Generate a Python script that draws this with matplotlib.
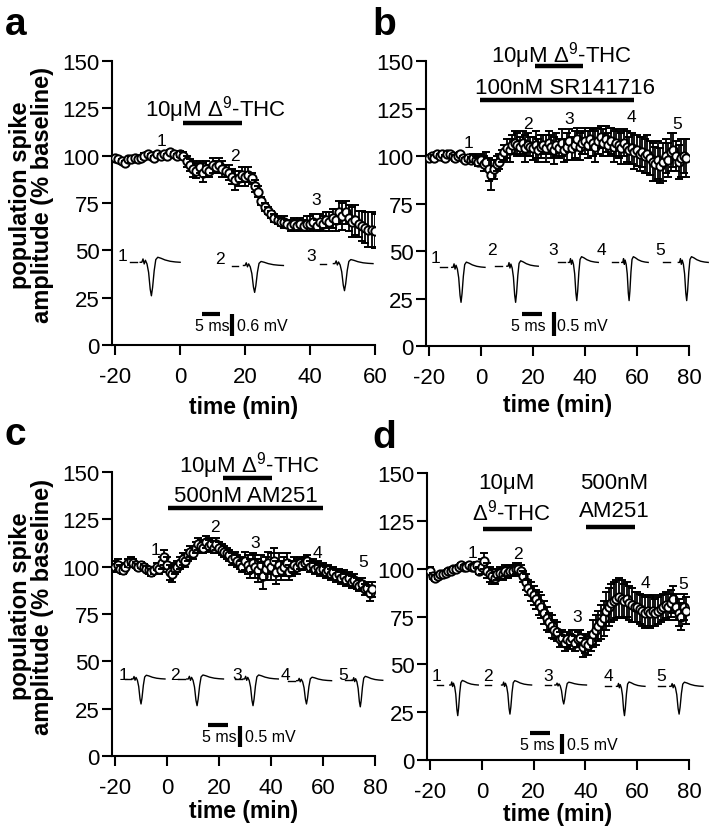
import numpy as np
import matplotlib
matplotlib.use('Agg')
import matplotlib.pyplot as plt

plt.rcParams['font.family'] = ['Liberation Sans', 'DejaVu Sans']
plt.rcParams['mathtext.fontset'] = 'custom'
plt.rcParams['mathtext.rm'] = 'Liberation Sans'
plt.rcParams['mathtext.it'] = 'Liberation Sans:italic'
plt.rcParams['mathtext.bf'] = 'Liberation Sans:bold'
plt.rcParams['axes.unicode_minus'] = False

# ---------------- data: population spike amplitude (% baseline) ----------------
a_time = list(range(-20, 61))
a_mean = [99, 98, 97, 96, 98, 98, 99, 98, 99, 100, 101, 100, 99, 101, 100, 101, 100, 102, 101, 100,
          101, 100, 97, 95, 93, 92, 94, 91, 93, 92, 95, 94, 95, 93, 92, 91, 89, 87, 88, 90, 89, 90, 88,
          84, 81, 76, 73, 71, 69, 67, 66, 65, 65, 64, 63, 64, 63, 64, 63, 64, 64, 65, 63, 65, 64,
          66, 65, 67, 66, 70, 68, 70, 67, 65, 66, 64, 63, 62, 61, 61, 60]
a_sem = [1, 1, 1.5, 1, 1, 1.5, 1, 1, 1, 1.5, 1, 1, 1, 1, 1, 1, 1, 1, 1, 1,
         1.5, 2, 3, 3, 4, 4, 3, 5, 4, 3, 4, 3, 4, 4, 3, 4, 4, 5, 4, 4, 5, 4, 3,
         3, 3, 2, 2, 2, 2, 2, 2, 2, 3, 2, 3, 3, 3, 3, 3, 4, 4, 4, 3, 4, 4,
         4, 5, 5, 6, 6, 7, 6, 7, 8, 8, 7, 8, 8, 9, 9, 9]

b_time = list(range(-20, 80))
b_mean = [99, 100, 99, 101, 100, 101, 99, 101, 101, 100, 99, 100, 101, 99, 98, 99, 98, 99, 98, 97,
          98, 96, 97, 93, 90, 93, 96, 97, 100, 102,
          104, 103, 106, 107, 106, 105, 107, 104, 106, 105, 104, 106, 103, 105, 106, 104, 107, 105, 103, 106,
          104, 107, 103, 105, 108, 104, 106, 109, 105, 107, 108, 106, 109, 107, 105, 108, 110, 107, 109, 106,
          108, 105, 107, 106, 104, 107,
          105, 103, 104, 102, 103, 101, 102, 100, 101, 99, 97, 96, 98, 95, 97, 100, 98, 102, 103, 100,
          97, 99, 100, 99]
b_sem = [1, 1, 1.5, 1, 1, 1, 1.5, 1, 1, 1, 1.5, 1, 1, 1, 1, 1.5, 1.5, 2, 2, 2,
         3, 4, 5, 6, 8, 5, 4, 4, 3, 4,
         5, 6, 5, 6, 6, 5, 6, 7, 6, 5, 6, 7, 6, 6, 5, 7, 6, 6, 7, 6,
         5, 7, 6, 7, 6, 6, 7, 6, 7, 6, 7, 7, 6, 7, 8, 7, 6, 7, 7, 6,
         7, 8, 7, 7, 8, 7,
         8, 7, 8, 9, 8, 9, 8, 9, 10, 9, 10, 9, 10, 9, 10, 9, 9, 10, 9, 8,
         9, 10, 9, 10]

c_time = list(range(-20, 80))
c_mean = [100, 101, 99, 98, 100, 102, 103, 102, 101, 100, 101, 100, 99, 98, 97, 98, 100, 99, 102, 105,
          101, 97, 96, 99, 100, 102, 104, 103, 106, 108, 107, 110, 112, 111, 110, 113, 111, 112, 110, 112,
          110, 109, 108, 107, 106, 104, 105, 103, 102, 100,
          103, 101, 99, 102, 100, 98, 101, 95, 99, 102, 100, 103, 97, 101, 98, 100, 102, 97, 99, 101, 100,
          102, 101, 102, 103, 100, 101, 99, 100, 98, 99, 97, 98, 96, 97, 95, 96, 94, 95, 93, 94,
          92, 93, 91, 90, 91, 88, 89, 86, 88]
c_sem = [3, 3, 2, 2, 2, 2, 2, 2, 1.5, 1.5, 1.5, 1.5, 1.5, 2, 2, 2, 2, 3, 3, 4,
         4, 4, 4, 3, 3, 3, 3, 3, 3, 3, 3, 3, 3, 3, 3, 3, 3, 3, 3, 3, 3, 3, 3, 3, 3, 3, 3, 3, 3, 3,
         5, 5, 5, 5, 6, 6, 5, 7, 6, 6, 7, 7, 6, 6, 5, 5, 5, 4, 4, 4, 4,
         3, 3, 3, 3, 3, 3, 3, 3, 3, 3, 3, 3, 3, 3, 3, 3, 3, 3, 3, 3, 3, 3, 3, 3, 3, 3, 3, 4, 4]

d_time = list(range(-20, 80))
d_mean = [99, 96, 95, 96, 97, 97, 98, 99, 99, 100, 100, 101, 102, 101, 101, 102, 101, 101, 102, 99,
          101, 104, 99, 97, 96, 95, 97, 98, 97, 99, 98, 99, 99, 100, 100, 99,
          96, 93, 90, 88, 86, 84, 82, 80, 77, 74, 72, 70, 68, 67,
          63, 64, 61, 63, 62, 64, 61, 63, 64, 59, 61, 60, 62,
          66, 68, 70, 72, 74, 78, 80, 82, 83, 84, 85, 84, 83, 84, 82, 81, 80, 80, 79, 78,
          77, 78, 77, 78, 77, 78, 79, 80, 81, 80, 82, 84, 80, 77, 75, 80, 78]
d_sem = [2, 1.5, 1.5, 1.5, 1, 1, 1, 1, 1, 1, 1, 1, 1, 1, 1, 1, 1, 1, 1.5, 2,
         4, 4, 4, 4, 4, 3, 3, 3, 3, 3, 3, 3, 3, 3, 3, 3,
         3, 4, 4, 5, 5, 5, 6, 6, 6, 6, 5, 6, 5, 5,
         4, 4, 4, 4, 4, 4, 4, 4, 4, 5, 5, 5, 5,
         7, 8, 8, 9, 9, 10, 10, 10, 10, 10, 10, 10, 9, 9, 9, 9, 8, 8, 8, 8,
         8, 8, 8, 8, 7, 7, 7, 7, 7, 7, 7, 7, 7, 7, 7, 7, 7]

# time-point labels above the data: (label, t, value)
a_marks = [('1', -5.6, 108), ('2', 17, 100), ('3', 42, 77)]
b_marks = [('1', -5, 107), ('2', 18, 117), ('3', 34, 119.5), ('4', 58, 121), ('5', 75.5, 117)]
c_marks = [('1', -4.6, 109), ('2', 18.5, 121), ('3', 34, 113), ('4', 57.7, 107.7), ('5', 75.4, 102.5)]
d_marks = [('1', -3.8, 108.7), ('2', 13.9, 107.7), ('3', 36.7, 74.8), ('4', 63, 93), ('5', 77.6, 92)]

# drug applications: (text, t, value) and bars (t0, t1, value)
THC = '10\u03bcM \u0394$^9$-THC'
a_drug_text = [(THC, 10.8, 124.7)]
a_drug_bars = [(0.8, 19, 117.1)]
b_drug_text = [(THC, 31, 153.5), ('100nM SR141716', 32.3, 135.8)]
b_drug_bars = [(20.8, 39.4, 147.5), (-0.4, 59, 129.5)]
c_drug_text = [(THC, 31.6, 154), ('500nM AM251', 30.3, 137.5)]
c_drug_bars = [(21.4, 40.3, 147), (0.5, 60.1, 130.8)]
d_drug_text = [('10\u03bcM', 9.5, 145.2), ('\u0394$^9$-THC', 11.5, 130), ('500nM', 51, 145.2), ('AM251', 51, 130.2)]
d_drug_bars = [(0.5, 19.2, 120.8), (40.2, 59.1, 121.6)]

# example population spikes: (label, label t, label v, dash t, wave t0, wave t1, baseline, trough)
a_traces = [('1', -17.9, 47.2, -15.4, -12.3, 0, 43.7, 26),
            ('2', 12.3, 45.5, 15.9, 19.5, 31.8, 42, 27.8),
            ('3', 40.5, 47.2, 43, 47.2, 59.4, 43, 28.7)]
b_traces = [('1', -17.7, 46.7, -15.8, -11.3, 1.5, 41.4, 23),
            ('2', 4.1, 51, 5.4, 9.9, 22, 42, 23),
            ('3', 27.8, 51, 29.7, 33.6, 45.1, 44, 23.9),
            ('4', 46.4, 51, 50.3, 54.1, 64.3, 44, 23.9),
            ('5', 68.8, 51, 70.1, 75.9, 87.4, 44, 23.9)]
c_traces = [('1', -16.8, 43.3, -16.2, -13.6, -0.8, 40.7, 27.5),
            ('2', 3.1, 43.3, 4.4, 7.6, 21.7, 40.7, 26.6),
            ('3', 26.8, 43.3, 26.2, 29.3, 42.8, 40.7, 26.6),
            ('4', 45.4, 43.3, 46.7, 49.9, 63.3, 39.8, 27.5),
            ('5', 67.8, 43.3, 68.5, 71, 83, 40, 26)]
d_traces = [('1', -17.5, 44, -17.5, -12.4, -1.4, 39.2, 23.2),
            ('2', 2.4, 44, 1.2, 7.6, 19.2, 39.2, 24),
            ('3', 25.6, 44, 24.3, 28.2, 40.4, 39.2, 29.3),
            ('4', 48.8, 44, 47.5, 52, 63, 38.5, 23.2),
            ('5', 69.4, 44, 68.1, 72.6, 85.4, 38.5, 24)]

# normalised spike waveform (fraction of width, fraction of depth)
spike_fx = [0.00, 0.04, 0.07, 0.10, 0.13, 0.17, 0.21, 0.25, 0.28, 0.31, 0.35, 0.39, 0.44, 0.52, 0.62, 0.75, 0.88, 1.00]
spike_fy = [0.00, 0.00, 0.10, -0.05, 0.06, -0.05, -0.30, -0.80, -1.00, -0.75, -0.25, 0.08, 0.15, 0.12, 0.07, 0.03, 0.01, 0.00]

# scale bars: horizontal bar (t0, t1, v), '5 ms' (t, v), vertical bar (t, v0, v1), mV text (t, v, label)
a_scale = ((6.7, 12.3, 16.4), (9.8, 10.2), (16.1, 4.9, 16.4), (17.4, 10.2, '0.6 mV'))
b_scale = ((15.6, 23.3, 16.8), (18.1, 10.7), (28.1, 5.3, 17.9), (29.1, 10.7, '0.5 mV'))
c_scale = ((15.9, 23.5, 16.4), (20.2, 10.3), (28.1, 4.6, 16.0), (30.0, 10.3, '0.5 mV'))
d_scale = ((18.5, 26.3, 14.0), (21.4, 8.1), (31.0, 3.1, 13.6), (32.7, 8.1, '0.5 mV'))


def draw_panel(ax, time, mean, sem, xlim, xticks, lpad):
	ax.set_xlim(*xlim)
	ax.set_ylim(0, 150)
	ax.set_xticks(xticks)
	ax.set_yticks([0, 25, 50, 75, 100, 125, 150])
	for s in ['top', 'right']:
		ax.spines[s].set_visible(False)
	for s in ['left', 'bottom']:
		ax.spines[s].set_linewidth(1.5)
	ax.tick_params(direction='out', length=7, width=1.5, labelsize=16)
	ax.tick_params(axis='x', pad=8)
	ax.tick_params(axis='y', pad=2)
	ax.set_xlabel('time (min)', fontsize=16.5, fontweight='bold', labelpad=lpad)
	# one point at a time so later error bars sit over earlier circles
	for i, (t, m, e) in enumerate(zip(time, mean, sem)):
		ax.errorbar([t], [m], yerr=[e], fmt='o', ms=6, mfc='white', mec='k', mew=1.4,
			ecolor='k', elinewidth=1.3, capsize=3, capthick=1.3, zorder=3 + i * 0.25)


def draw_marks(ax, marks):
	for lab, t, v in marks:
		ax.text(t, v, lab, fontsize=12.5, ha='center', va='center', zorder=60)


def draw_drugs(ax, texts, bars):
	for txt, t, v in texts:
		ax.text(t, v, txt, fontsize=16, ha='center', va='center', clip_on=False)
	for t0, t1, v in bars:
		ax.plot([t0, t1], [v, v], color='k', lw=3.2, solid_capstyle='butt', clip_on=False)


def draw_traces(ax, traces, dash_len):
	for lab, lt, lv, dt, w0, w1, base, vmin in traces:
		ax.text(lt, lv, lab, fontsize=12.5, ha='center', va='center')
		ax.plot([dt, dt + dash_len], [base, base], color='k', lw=1.0, clip_on=False)
		xs = [w0 + f * (w1 - w0) for f in spike_fx]
		ys = [base + f * (base - vmin) for f in spike_fy]
		ax.plot(xs, ys, color='k', lw=1.0, clip_on=False)


def draw_scale(ax, scale):
	hb, mst, vb, mvt = scale
	ax.plot([hb[0], hb[1]], [hb[2], hb[2]], color='k', lw=3, solid_capstyle='butt')
	ax.text(mst[0], mst[1], '5 ms', fontsize=11.5, ha='center', va='center')
	ax.plot([vb[0], vb[0]], [vb[1], vb[2]], color='k', lw=3, solid_capstyle='butt')
	ax.text(mvt[0], mvt[1], mvt[2], fontsize=11.5, ha='left', va='center')


fig = plt.figure(figsize=(7.1, 8.28), dpi=100)
ax_a = fig.add_axes([0.1577, 0.5821, 0.3704, 0.3430])
ax_b = fig.add_axes([0.6000, 0.5809, 0.3704, 0.3442])
ax_c = fig.add_axes([0.1577, 0.0857, 0.3704, 0.3430])
ax_d = fig.add_axes([0.6014, 0.0809, 0.3690, 0.3466])

draw_panel(ax_a, a_time, a_mean, a_sem, (-21, 60), [-20, 0, 20, 40, 60], 6)
draw_panel(ax_b, b_time, b_mean, b_sem, (-21.2, 80), [-20, 0, 20, 40, 60, 80], 4)
draw_panel(ax_c, c_time, c_mean, c_sem, (-21.2, 80), [-20, 0, 20, 40, 60, 80], 1)
draw_panel(ax_d, d_time, d_mean, d_sem, (-21.2, 80), [-20, 0, 20, 40, 60, 80], 0)

draw_marks(ax_a, a_marks)
draw_marks(ax_b, b_marks)
draw_marks(ax_c, c_marks)
draw_marks(ax_d, d_marks)

draw_drugs(ax_a, a_drug_text, a_drug_bars)
draw_drugs(ax_b, b_drug_text, b_drug_bars)
draw_drugs(ax_c, c_drug_text, c_drug_bars)
draw_drugs(ax_d, d_drug_text, d_drug_bars)

draw_traces(ax_a, a_traces, 2.0)
draw_traces(ax_b, b_traces, 2.5)
draw_traces(ax_c, c_traces, 2.5)
draw_traces(ax_d, d_traces, 2.5)

draw_scale(ax_a, a_scale)
draw_scale(ax_b, b_scale)
draw_scale(ax_c, c_scale)
draw_scale(ax_d, d_scale)

for ax in [ax_a, ax_c]:
	ax.text(-0.305, 0.53, 'population spike\namplitude (% baseline)', transform=ax.transAxes,
		rotation=90, ha='center', va='center', fontsize=17, fontweight='bold', linespacing=0.95)

fig.text(0.007, 0.958, 'a', fontsize=28, fontweight='bold', va='baseline')
fig.text(0.525, 0.958, 'b', fontsize=28, fontweight='bold', va='baseline')
fig.text(0.007, 0.4626, 'c', fontsize=28, fontweight='bold', va='baseline')
fig.text(0.525, 0.459, 'd', fontsize=28, fontweight='bold', va='baseline')

fig.savefig('out.png', dpi=100)
